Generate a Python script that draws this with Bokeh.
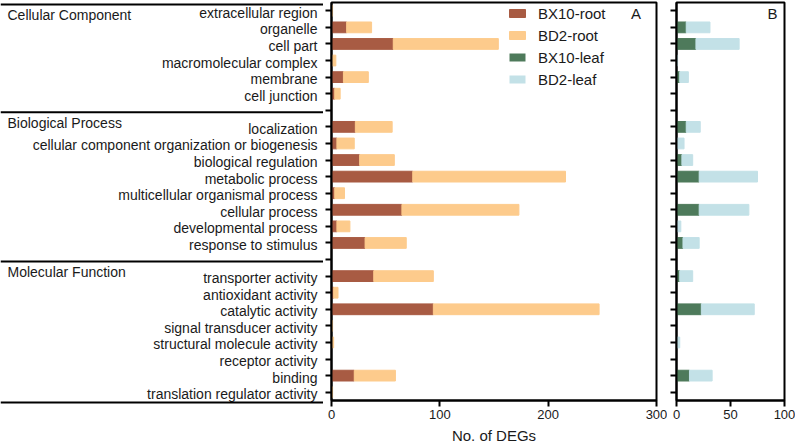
from bokeh.plotting import figure
from bokeh.layouts import row
from bokeh.models import (Range1d, FixedTicker, Legend, LegendItem, Label,
                          ColumnDataSource)
from bokeh.embed import file_html
from bokeh.resources import INLINE
from bokeh.core.properties import value

# ---------------- data ----------------
groups = ["Cellular Component", "Biological Process", "Molecular Function"]
cc_terms = ["extracellular region", "organelle", "cell part",
            "macromolecular complex", "membrane", "cell junction"]
bp_terms = ["localization", "cellular component organization or biogenesis",
            "biological regulation", "metabolic process",
            "multicellular organismal process", "cellular process",
            "developmental process", "response to stimulus"]
mf_terms = ["transporter activity", "antioxidant activity", "catalytic activity",
            "signal transducer activity", "structural molecule activity",
            "receptor activity", "binding", "translation regulator activity"]

bx10_root = [0, 14, 57, 0, 11, 3,
             22, 5, 26, 75, 3, 65, 5, 31,
             39, 2, 94, 0, 0, 0, 21, 0]
bd2_root = [1, 23, 97, 4, 23, 5,
            34, 16, 32, 141, 9, 108, 12, 38,
            55, 4, 153, 1, 2, 0, 38, 1]
bx10_leaf = [0, 9, 18, 0, 3, 0,
             9, 0, 5, 21, 0, 21, 0, 6,
             3, 0, 23, 0, 0, 0, 12, 0]
bd2_leaf = [0, 22, 40, 1, 8, 0,
            13, 7, 10, 54, 0, 46, 4, 15,
            12, 0, 49, 0, 3, 0, 21, 0]

root_ticks = [0, 100, 200, 300]
leaf_ticks = [0, 50, 100]

# ---------------- styles ----------------
C_BX10_ROOT = "#A85B43"
C_BD2_ROOT = "#FDCB8C"
C_BX10_LEAF = "#4E7A5B"
C_BD2_LEAF = "#C3E1E7"
FONT = "Liberation Sans"
TXT = "#1a1a1a"

FRAME_H = 398
TOP = 2
L_W = 323
A_W = 325
B_W = 108
EXT_PX = 6

# ---------------- layout of rows ----------------
terms = []
pos = []
seps = []
slot = 0
for gi, g_terms in enumerate([cc_terms, bp_terms, mf_terms]):
    if gi > 0:
        seps.append(slot)
        slot += 1
    for t in g_terms:
        terms.append(t)
        pos.append(slot)
        slot += 1
n_slots = slot
ROW = FRAME_H / n_slots
rules = [-0.5] + seps + [n_slots - 0.5]
header_y = [rules[i] + 0.62 for i in range(len(groups))]

src = ColumnDataSource(dict(y=pos, term=terms,
                            bx10_root=bx10_root, bd2_root=bd2_root,
                            bx10_leaf=bx10_leaf, bd2_leaf=bd2_leaf))

y_range = Range1d(n_slots - 0.5, -0.5)

# ---------------- label panel ----------------
ext_top = min(EXT_PX, TOP) / ROW
ext_bot = EXT_PX / ROW
pL = figure(frame_width=L_W, frame_height=FRAME_H + min(EXT_PX, TOP) + EXT_PX,
            x_range=Range1d(0, L_W),
            y_range=Range1d(n_slots - 0.5 + ext_bot, -0.5 - ext_top),
            x_axis_location=None, y_axis_location=None,
            toolbar_location=None, output_backend="svg",
            min_border_left=0, min_border_right=0,
            min_border_top=TOP - min(EXT_PX, TOP), min_border_bottom=4)
pL.outline_line_color = None
pL.xgrid.visible = False
pL.ygrid.visible = False
pL.text(x=[L_W - 6] * len(terms), y=pos, text=terms,
        text_align="right", text_baseline="middle",
        text_font=value(FONT), text_font_size="14px", text_color=TXT)
pL.text(x=[7] * len(groups), y=header_y, text=groups,
        text_align="left", text_baseline="middle",
        text_font=value(FONT), text_font_size="14px", text_color=TXT)
pL.segment(x0=[0] * len(rules), x1=[L_W] * len(rules), y0=rules, y1=rules,
           line_color="black", line_width=2)


def style(p, ticks):
    p.outline_line_color = "black"
    p.outline_line_width = 2
    p.outline_line_alpha = 1
    p.xgrid.visible = False
    p.ygrid.visible = False
    for ax in (p.xaxis[0], p.yaxis[0]):
        ax.axis_line_color = "black"
        ax.axis_line_width = 2
        ax.major_tick_line_color = "black"
        ax.major_tick_line_width = 2
        ax.major_tick_out = 6
        ax.major_tick_in = 0
        ax.minor_tick_line_color = None
    p.yaxis[0].ticker = FixedTicker(ticks=list(range(n_slots)))
    p.yaxis[0].major_label_overrides = {i: "" for i in range(n_slots)}
    p.yaxis[0].major_label_standoff = 0
    p.xaxis[0].ticker = FixedTicker(ticks=ticks)
    p.xaxis[0].major_label_text_font = FONT
    p.xaxis[0].major_label_text_font_size = "13px"
    p.xaxis[0].major_label_text_color = TXT
    p.xaxis[0].major_label_standoff = 3


# ---------------- panel A ----------------
pA = figure(frame_width=A_W, frame_height=FRAME_H,
            x_range=Range1d(root_ticks[0], root_ticks[-1]), y_range=y_range,
            toolbar_location=None, output_backend="svg",
            min_border_left=8, min_border_right=11,
            min_border_top=TOP, min_border_bottom=10)
style(pA, root_ticks)
pA.xaxis[0].axis_label = "No. of DEGs"
pA.xaxis[0].axis_label_text_font = FONT
pA.xaxis[0].axis_label_text_font_size = "15px"
pA.xaxis[0].axis_label_text_font_style = "normal"
pA.xaxis[0].axis_label_text_color = TXT
pA.xaxis[0].axis_label_standoff = 5

rA = pA.hbar_stack(["bx10_root", "bd2_root"], y="y", height=0.65,
                   color=[C_BX10_ROOT, C_BD2_ROOT], source=src)
# legend proxies for the leaf series (zero-length, hidden under the axis)
proxy = ColumnDataSource(dict(y=[pos[0]], left=[0], right=[0]))
g1 = pA.hbar(y="y", left="left", right="right", height=0.65, source=proxy,
             fill_color=C_BX10_LEAF, line_color=None)
g2 = pA.hbar(y="y", left="left", right="right", height=0.65, source=proxy,
             fill_color=C_BD2_LEAF, line_color=None)

leg_h = 4 * 20 + 3 * 2
legend = Legend(items=[LegendItem(label="BX10-root", renderers=[rA[0]]),
                       LegendItem(label="BD2-root", renderers=[rA[1]]),
                       LegendItem(label="BX10-leaf", renderers=[g1]),
                       LegendItem(label="BD2-leaf", renderers=[g2])],
                location=(176, FRAME_H - leg_h - 1),
                border_line_color=None, background_fill_alpha=0,
                label_text_font=FONT, label_text_font_size="15px",
                label_text_color=TXT,
                glyph_width=20, glyph_height=10, label_height=20,
                spacing=2, padding=0, margin=0, label_standoff=11)
pA.add_layout(legend)
pA.add_layout(Label(x=281, y=0.15, text="A", text_align="center",
                    text_baseline="middle", text_font=FONT,
                    text_font_size="15px", text_color=TXT))

# ---------------- panel B ----------------
pB = figure(frame_width=B_W, frame_height=FRAME_H,
            x_range=Range1d(leaf_ticks[0], leaf_ticks[-1]), y_range=y_range,
            toolbar_location=None, output_backend="svg",
            min_border_left=9, min_border_right=11,
            min_border_top=TOP, min_border_bottom=10)
style(pB, leaf_ticks)
pB.hbar_stack(["bx10_leaf", "bd2_leaf"], y="y", height=0.65,
              color=[C_BX10_LEAF, C_BD2_LEAF], source=src)
pB.add_layout(Label(x=89, y=0.15, text="B", text_align="center",
                    text_baseline="middle", text_font=FONT,
                    text_font_size="15px", text_color=TXT))

layout = row(pL, pA, pB)
open("out.html", "w").write(file_html(layout, INLINE))
